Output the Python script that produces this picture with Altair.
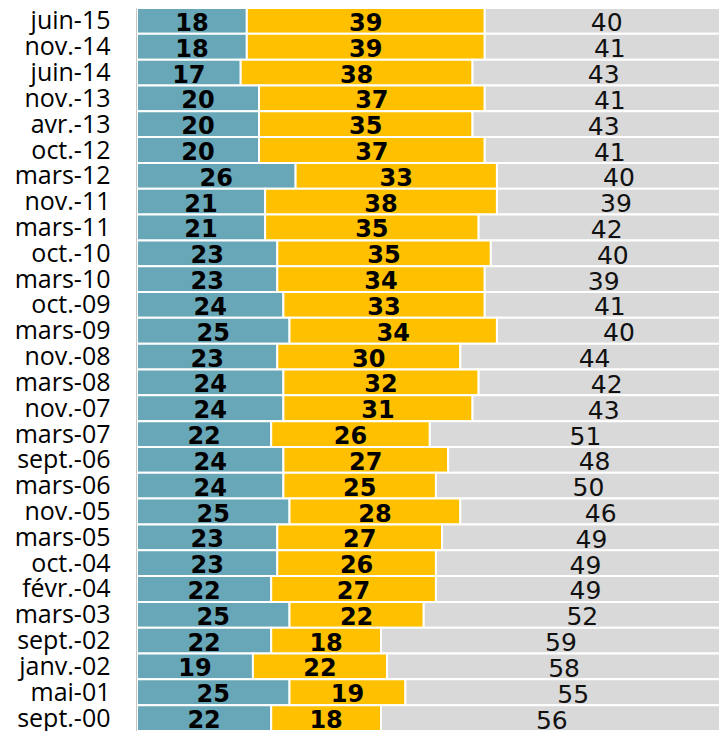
import altair as alt
import pandas as pd

dates = ["juin-15", "nov.-14", "juin-14", "nov.-13", "avr.-13", "oct.-12", "mars-12",
         "nov.-11", "mars-11", "oct.-10", "mars-10", "oct.-09", "mars-09", "nov.-08",
         "mars-08", "nov.-07", "mars-07", "sept.-06", "mars-06", "nov.-05", "mars-05",
         "oct.-04", "févr.-04", "mars-03", "sept.-02", "janv.-02", "mai-01", "sept.-00"]
serie1 = [18, 18, 17, 20, 20, 20, 26, 21, 21, 23, 23, 24, 25, 23, 24, 24, 22, 24, 24, 25,
          23, 23, 22, 25, 22, 19, 25, 22]
serie2 = [39, 39, 38, 37, 35, 37, 33, 38, 35, 35, 34, 33, 34, 30, 32, 31, 26, 27, 25, 28,
          27, 26, 27, 22, 18, 22, 19, 18]
serie3 = [40, 41, 43, 41, 43, 41, 40, 39, 42, 40, 39, 41, 40, 44, 42, 43, 51, 48, 50, 46,
          49, 49, 49, 52, 59, 58, 55, 56]
series = ["Série 1", "Série 2", "Série 3"]
colors = ["#68A7B8", "#FFC000", "#D9D9D9"]

rows = []
for i, d in enumerate(dates):
    for k, vals in enumerate([serie1, serie2, serie3]):
        rows.append({"date": d, "serie": series[k], "order": k, "value": vals[i]})
df = pd.DataFrame(rows)

base = alt.Chart(df).transform_stack(
    stack="value", groupby=["date"], sort=[alt.SortField("order")], as_=["v0", "v1"]
).transform_calculate(mid="(datum.v0 + datum.v1) / 2")

xscale = alt.Scale(domain=[0, 95.4], nice=False, zero=True)
y = alt.Y("date:N", sort=dates, title=None,
          scale=alt.Scale(paddingInner=0, paddingOuter=0),
          axis=alt.Axis(domainColor="#8C8C8C", domainWidth=2, ticks=False, tickSize=0,
                        labelFont="Open Sans", labelFontSize=25, labelColor="black",
                        labelPadding=27, labelBaseline="alphabetic", labelOffset=8.5,
                        labelOverlap=False, labelLimit=0, grid=False))

bars = base.mark_bar(stroke="white", strokeWidth=2, clip=True).encode(
    x=alt.X("v0:Q", scale=xscale, axis=None),
    x2="v1:Q",
    y=y,
    color=alt.Color("serie:N", scale=alt.Scale(domain=series, range=colors), legend=None),
)

bold = base.transform_filter("datum.order < 2").mark_text(
    font="DejaVu Sans", fontWeight="bold", fontSize=24, baseline="alphabetic",
    dy=10, color="black"
).encode(x=alt.X("mid:Q", scale=xscale, axis=None), y=y, text="value:Q")

plain = base.transform_filter("datum.order == 2").mark_text(
    font="DejaVu Sans", fontSize=25, baseline="alphabetic", dy=10.5, color="#111111"
).encode(x=alt.X("mid:Q", scale=xscale, axis=None), y=y, text="value:Q")

chart = alt.layer(bars, bold, plain).properties(
    width=582, height=723,
    autosize=alt.AutoSizeParams(type="none"),
    padding={"left": 129, "top": 0, "right": 0, "bottom": 0},
).configure_view(stroke=None)

chart.save("out.html", embed_options={"renderer": "svg", "actions": False})
